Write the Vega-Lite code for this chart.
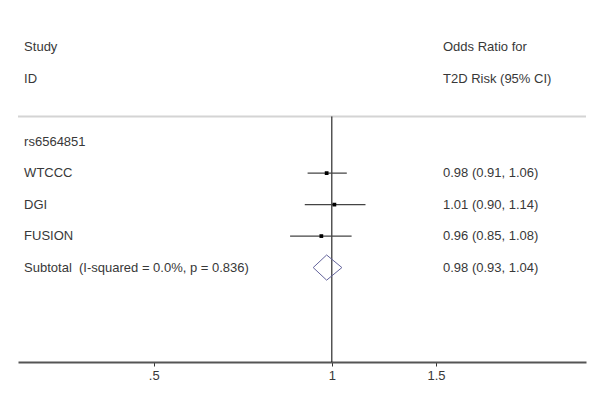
{
  "$schema": "https://vega.github.io/schema/vega-lite/v6.json",
  "autosize": {"type": "none"},
  "width": 568,
  "height": 362,
  "padding": {"left": 18, "top": 0, "right": 14, "bottom": 38},
  "background": "white",
  "config": {"view": {"stroke": null}, "font": "Liberation Sans"},
  "datasets": {
    "studies": [
      {"study": "WTCCC", "row": 5, "or": 0.98, "lo": 0.91, "hi": 1.06, "label": "0.98 (0.91, 1.06)"},
      {"study": "DGI", "row": 6, "or": 1.01, "lo": 0.90, "hi": 1.14, "label": "1.01 (0.90, 1.14)"},
      {"study": "FUSION", "row": 7, "or": 0.96, "lo": 0.85, "hi": 1.08, "label": "0.96 (0.85, 1.08)"}
    ],
    "leftText": [
      {"row": 1, "text": "Study"},
      {"row": 2, "text": "ID"},
      {"row": 4, "text": "rs6564851"},
      {"row": 5, "text": "WTCCC"},
      {"row": 6, "text": "DGI"},
      {"row": 7, "text": "FUSION"},
      {"row": 8, "text": "Subtotal\u00a0 (I-squared = 0.0%, p = 0.836)"}
    ],
    "rightText": [
      {"row": 1, "text": "Odds Ratio for"},
      {"row": 2, "text": "T2D Risk (95% CI)"},
      {"row": 5, "text": "0.98 (0.91, 1.06)"},
      {"row": 6, "text": "1.01 (0.90, 1.14)"},
      {"row": 7, "text": "0.96 (0.85, 1.08)"},
      {"row": 8, "text": "0.98 (0.93, 1.04)"}
    ],
    "diamond": [
      {"k": 0, "x": 0.93, "y": 8},
      {"k": 1, "x": 0.98, "y": 7.6},
      {"k": 2, "x": 1.04, "y": 8},
      {"k": 3, "x": 0.98, "y": 8.4},
      {"k": 4, "x": 0.93, "y": 8}
    ]
  },
  "layer": [
    {
      "data": {"values": [{}]},
      "mark": {"type": "rule", "color": "#d4d4d4", "strokeWidth": 2},
      "encoding": {
        "x": {"datum": 0.2947, "type": "quantitative", "scale": {"type": "log", "domain": [0.2947, 2.69], "nice": false}},
        "x2": {"datum": 2.69},
        "y": {"datum": 3.2, "type": "quantitative", "scale": {"domain": [-0.5, 11], "reverse": true, "nice": false, "zero": false}, "axis": null}
      }
    },
    {
      "data": {"values": [{}]},
      "mark": {"type": "rule", "color": "#000000", "strokeWidth": 1},
      "encoding": {
        "x": {"datum": 1, "type": "quantitative"},
        "y": {"datum": 3.2, "type": "quantitative"},
        "y2": {"datum": 11}
      }
    },
    {
      "data": {"name": "studies"},
      "mark": {"type": "rule", "color": "#444444", "strokeWidth": 1.3},
      "encoding": {
        "x": {"field": "lo", "type": "quantitative"},
        "x2": {"field": "hi"},
        "y": {"field": "row", "type": "quantitative"}
      }
    },
    {
      "data": {"name": "studies"},
      "mark": {"type": "point", "shape": "square", "filled": true, "color": "#000000", "size": 14, "opacity": 1},
      "encoding": {
        "x": {"field": "or", "type": "quantitative"},
        "y": {"field": "row", "type": "quantitative"}
      }
    },
    {
      "data": {"name": "diamond"},
      "mark": {"type": "line", "color": "#64649c", "strokeWidth": 1},
      "encoding": {
        "x": {"field": "x", "type": "quantitative"},
        "y": {"field": "y", "type": "quantitative"},
        "order": {"field": "k", "type": "quantitative"}
      }
    },
    {
      "data": {"name": "leftText"},
      "mark": {"type": "text", "align": "left", "baseline": "middle", "fontSize": 13, "color": "#383838"},
      "encoding": {
        "x": {"datum": 0.3018, "type": "quantitative"},
        "y": {"field": "row", "type": "quantitative"},
        "text": {"field": "text"}
      }
    },
    {
      "data": {"name": "rightText"},
      "mark": {"type": "text", "align": "left", "baseline": "middle", "fontSize": 13, "color": "#383838"},
      "encoding": {
        "x": {"datum": 1.5416, "type": "quantitative", "axis": {
          "values": [0.5, 1, 1.5],
          "labelExpr": "datum.value == 0.5 ? '.5' : datum.label",
          "title": null,
          "grid": false,
          "domainColor": "#555555",
          "domainWidth": 2,
          "tickColor": "#333333",
          "tickSize": 4,
          "tickWidth": 1,
          "labelFontSize": 13,
          "labelColor": "#383838",
          "labelPadding": 3,
          "labelFont": "Liberation Sans"
        }},
        "y": {"field": "row", "type": "quantitative"},
        "text": {"field": "text"}
      }
    }
  ]
}
